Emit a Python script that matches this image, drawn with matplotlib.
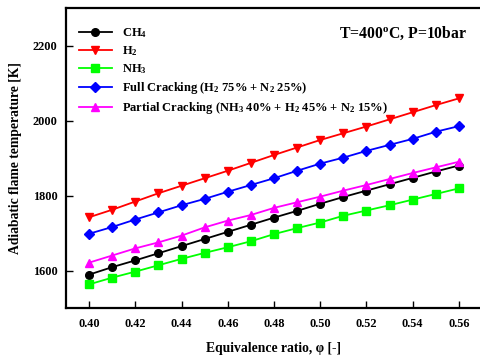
import numpy as np
import matplotlib
matplotlib.use("Agg")
from matplotlib import pyplot as plt

plt.rcParams["font.family"] = ["Liberation Serif", "DejaVu Serif"]
plt.rcParams["font.weight"] = "bold"
plt.rcParams["mathtext.fontset"] = "custom"
plt.rcParams["mathtext.rm"] = "Liberation Serif:bold"
plt.rcParams["mathtext.bf"] = "Liberation Serif:bold"
plt.rcParams["mathtext.default"] = "rm"

# ── Data ──────────────────────────────────────────────────────────────────────
phi = [0.40, 0.41, 0.42, 0.43, 0.44, 0.45, 0.46, 0.47, 0.48,
       0.49, 0.50, 0.51, 0.52, 0.53, 0.54, 0.55, 0.56]

ch4 = [1589, 1609, 1627, 1646, 1665, 1684, 1703, 1722, 1741,
       1759, 1778, 1796, 1813, 1830, 1847, 1864, 1880]
h2 = [1742, 1762, 1784, 1806, 1826, 1846, 1866, 1887, 1908,
      1928, 1948, 1966, 1984, 2003, 2022, 2041, 2059]
nh3 = [1563, 1581, 1597, 1614, 1631, 1647, 1662, 1678, 1697,
       1713, 1728, 1746, 1760, 1774, 1789, 1804, 1819]
full_crack = [1698, 1716, 1736, 1755, 1774, 1791, 1810, 1828, 1846,
              1866, 1885, 1901, 1919, 1935, 1951, 1970, 1985]
partial_crack = [1621, 1640, 1659, 1675, 1693, 1715, 1733, 1748, 1767,
                 1782, 1797, 1813, 1828, 1844, 1860, 1875, 1890]

labels = [
    r"CH$_4$",
    r"H$_2$",
    r"NH$_3$",
    r"Full Cracking (H$_2$ 75% + N$_2$ 25%)",
    r"Partial Cracking (NH$_3$ 40% + H$_2$ 45% + N$_2$ 15%)",
]
series = [ch4, h2, nh3, full_crack, partial_crack]
colors = ["black", "red", "#00ff00", "blue", "magenta"]
markers = ["o", "v", "s", "D", "^"]

xticks = [0.40, 0.42, 0.44, 0.46, 0.48, 0.50, 0.52, 0.54, 0.56]
yticks = [1600, 1800, 2000, 2200]

# ── Plot ─────────────────────────────────────────────────────────────────────
fig = plt.figure(figsize=(4.8, 3.58), dpi=100)
ax = fig.add_axes([66 / 480, 50 / 358, 416 / 480, 300 / 358])

for y, lab, c, m in zip(series, labels, colors, markers):
    ax.plot(phi, y, color=c, marker=m, markersize=5.5 if m != "D" else 5,
            linewidth=1.3, label=lab)

ax.set_xlim(0.39, 0.57)
ax.set_ylim(1500, 2300)
ax.set_xticks(xticks)
ax.set_xticklabels([f"{t:.2f}" for t in xticks])
ax.set_yticks(yticks)
ax.tick_params(direction="in", length=5, width=1, labelsize=8.8)
ax.tick_params(axis="x", pad=7)
ax.tick_params(axis="y", pad=6)
for s in ax.spines.values():
    s.set_linewidth(1.6)

ax.set_xlabel("Equivalence ratio, φ [-]", fontsize=9.8, fontweight="bold", labelpad=9)
ax.set_ylabel("Adiabatic flame temperature [K]", fontsize=9.8, fontweight="bold", labelpad=8)

ax.legend(loc="upper left", frameon=False, fontsize=9, handlelength=2.7,
          labelspacing=0.32, borderaxespad=0.6, bbox_to_anchor=(0.0, 0.98))
ax.text(0.965, 0.915, r"T=400$^{o}$C, P=10bar", transform=ax.transAxes,
        ha="right", va="center", fontsize=11.3, fontweight="bold")

plt.savefig("out.png", dpi=100)
plt.close()
